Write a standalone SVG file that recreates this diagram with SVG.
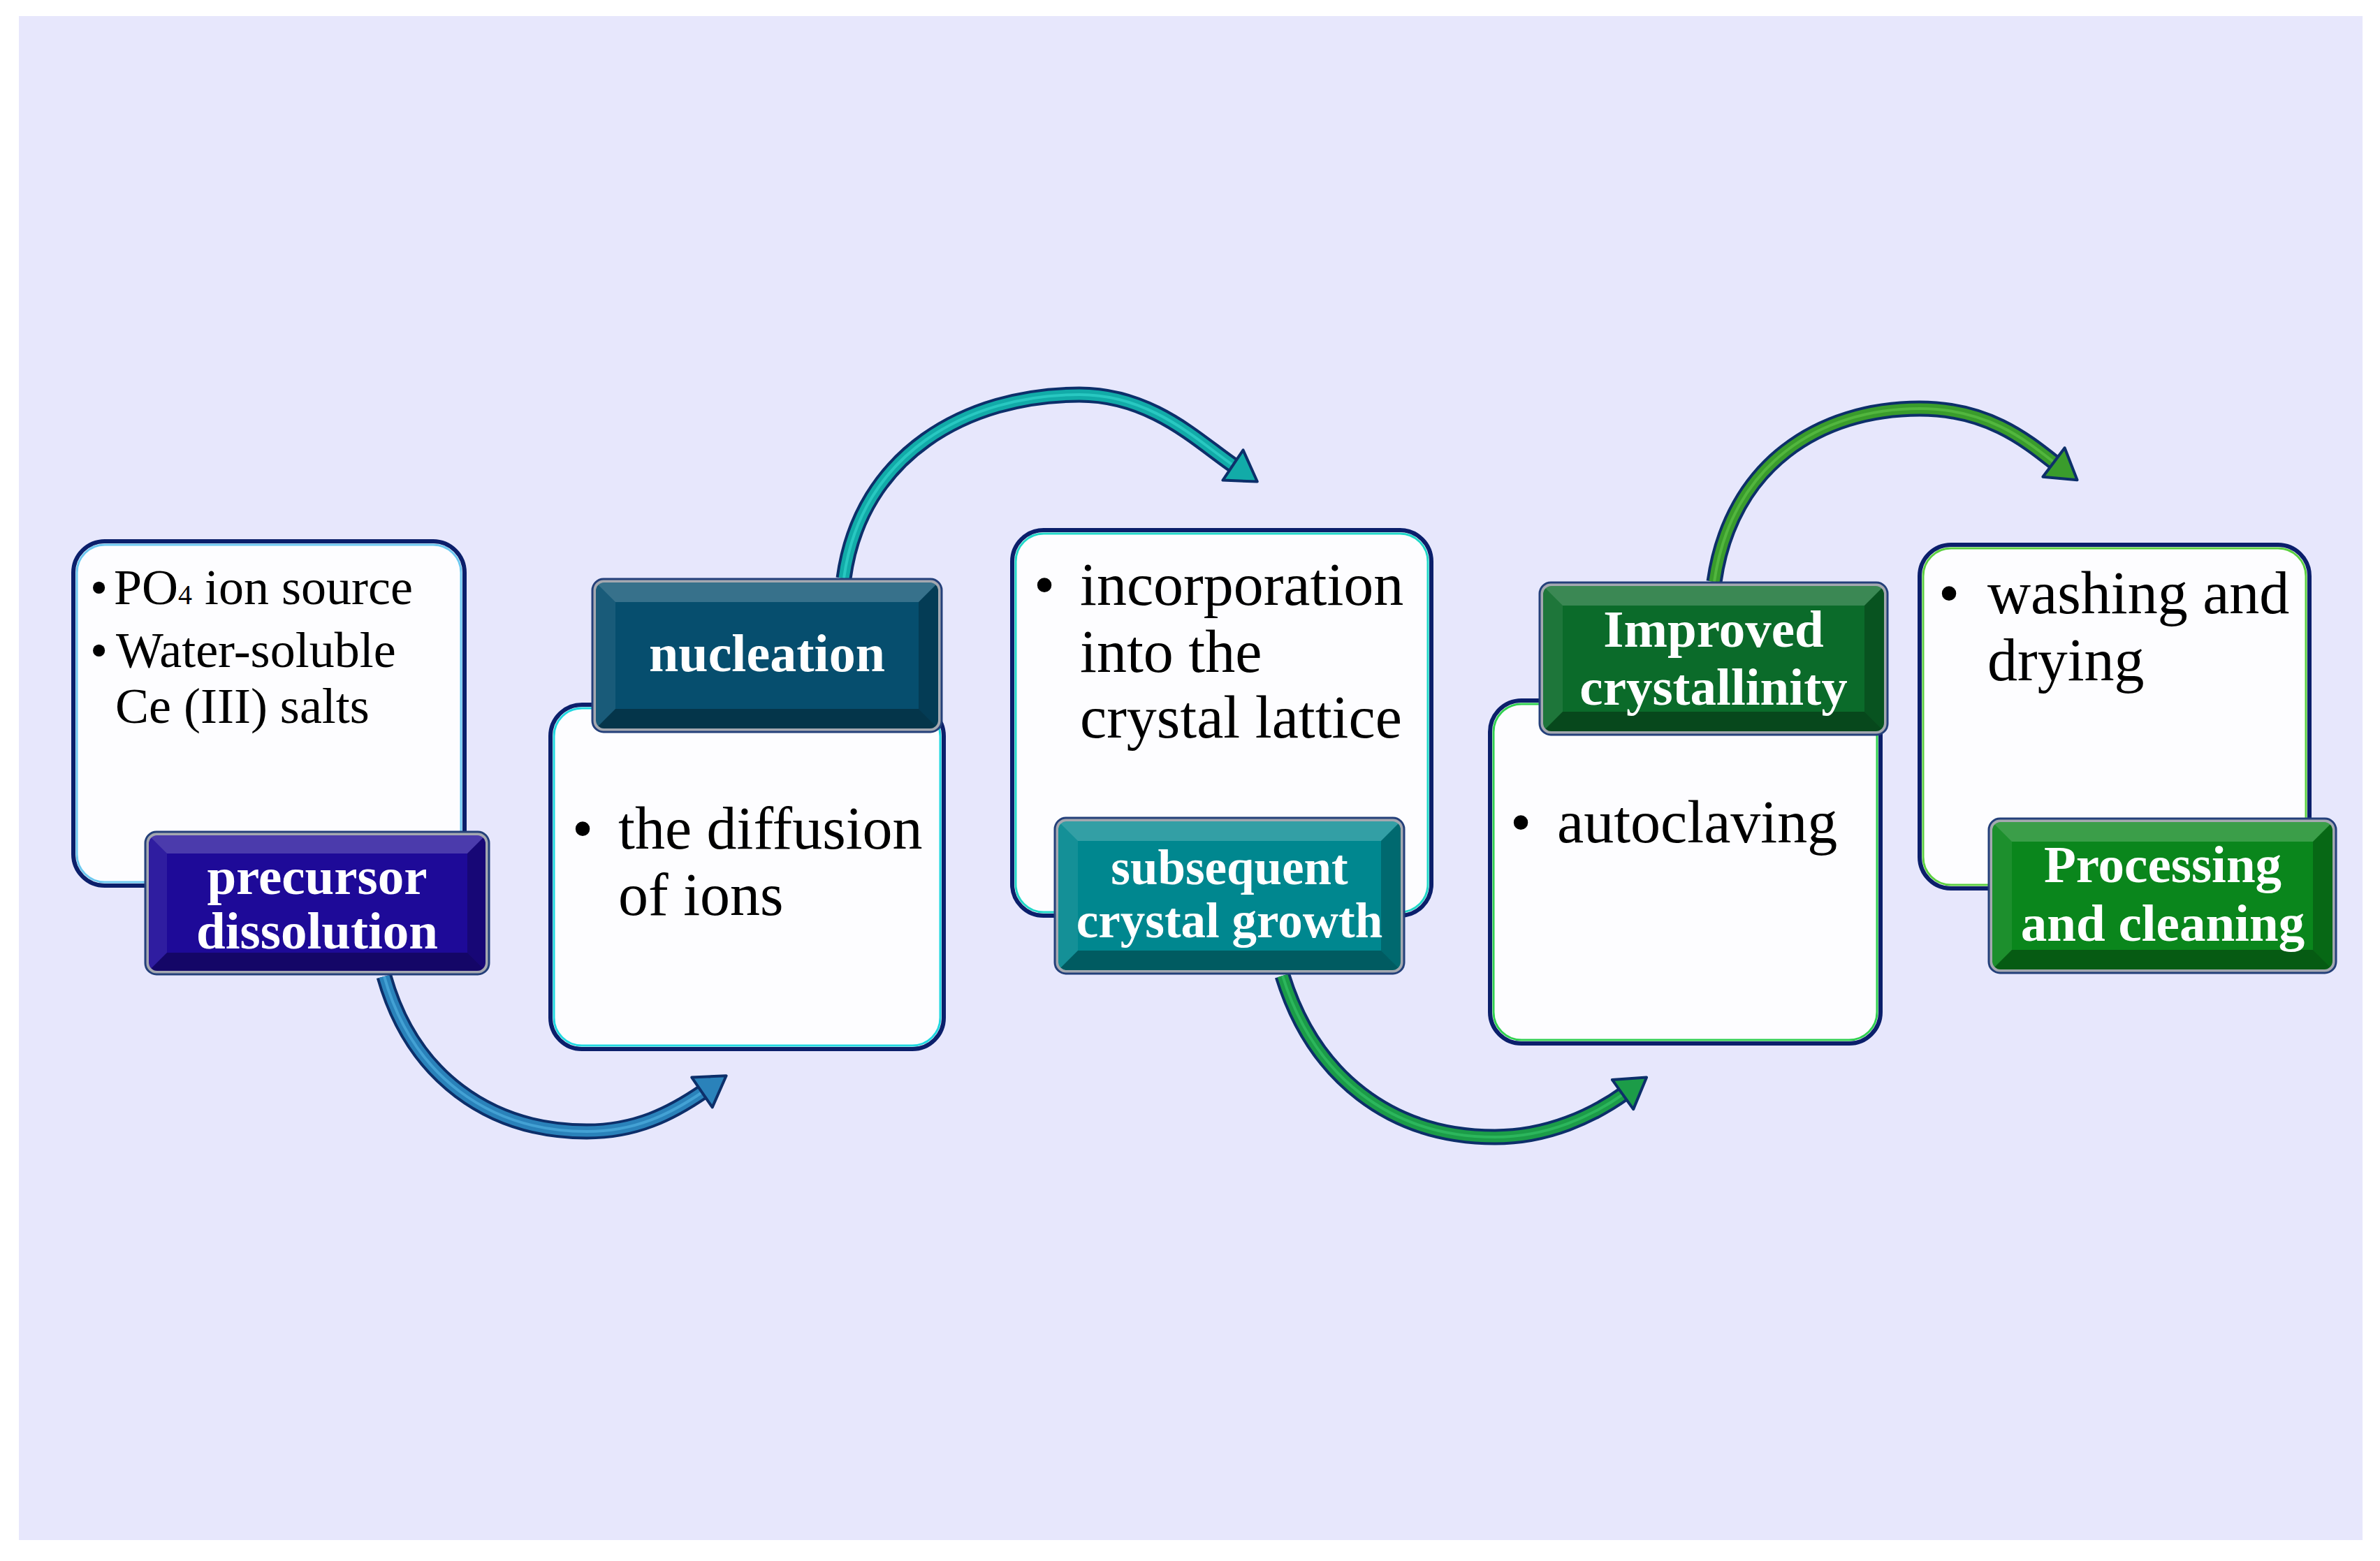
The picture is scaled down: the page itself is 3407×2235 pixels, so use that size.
<svg xmlns="http://www.w3.org/2000/svg" width="3407" height="2235" viewBox="0 0 3407 2235">
<style>
.body{fill:#FDFDFF;stroke:#0B1F6B;stroke-width:6}
.inner{fill:none;stroke-width:3}
.bt{font-family:"Liberation Serif","Times New Roman",serif;fill:#000}
.lt{font-family:"Liberation Serif","Times New Roman",serif;font-weight:bold;fill:#fff;text-anchor:middle}
.rim{fill:#A4A8B0;stroke:#24407A;stroke-width:3}
.bvt{fill:#fff;opacity:0.2}
.bvl{fill:#fff;opacity:0.08}
.bvb{fill:#000;opacity:0.32}
.bvr{fill:#000;opacity:0.22}
.tubeo{fill:none;stroke:#0D2F6A;stroke-width:23}
.tubei{fill:none;stroke-width:15}
.tubeh{fill:none;stroke-width:4;stroke-opacity:0.5}
.head{stroke:#0D2F6A;stroke-width:4;stroke-linejoin:round}
</style>
<defs>
<clipPath id="c1"><rect x="213" y="1196" width="482" height="194" rx="12"/></clipPath>
<clipPath id="c2"><rect x="853" y="834" width="490" height="209" rx="12"/></clipPath>
<clipPath id="c3"><rect x="1515" y="1176" width="490" height="213" rx="12"/></clipPath>
<clipPath id="c4"><rect x="2209" y="839" width="488" height="208" rx="12"/></clipPath>
<clipPath id="c5"><rect x="2852" y="1177" width="487" height="211" rx="12"/></clipPath>
</defs>
<rect x="0" y="0" width="3407" height="2235" fill="#fff"/>
<rect x="27" y="23" width="3355" height="2182" fill="#E7E7FC"/>

<g id="connectors">
  <g id="arrow-a">
    <path class="tubeo" d="M550,1398 C590,1540 700,1620 840,1620 C910,1620 960,1595 1008,1562"/>
    <path class="tubei" stroke="#2A82BA" d="M550,1398 C590,1540 700,1620 840,1620 C910,1620 960,1595 1008,1562"/>
    <path class="tubeh" stroke="#5CC0EE" d="M550,1398 C590,1540 700,1620 840,1620 C910,1620 960,1595 1008,1562"/>
    <polygon class="head" fill="#2A82BA" transform="translate(1005,1564) rotate(-34.5)" points="42,0 0,-26 0,26"/>
  </g>
  <g id="arrow-b">
    <path class="tubeo" d="M1208,828 C1232,650 1385,565 1545,565 C1650,565 1716,633 1768,668"/>
    <path class="tubei" stroke="#12ABA8" d="M1208,828 C1232,650 1385,565 1545,565 C1650,565 1716,633 1768,668"/>
    <path class="tubeh" stroke="#3EE6DA" d="M1208,828 C1232,650 1385,565 1545,565 C1650,565 1716,633 1768,668"/>
    <polygon class="head" fill="#12ABA8" transform="translate(1765,666) rotate(34)" points="42,0 0,-26 0,26"/>
  </g>
  <g id="arrow-c">
    <path class="tubeo" d="M1836,1397 C1880,1540 1990,1628 2140,1628 C2215,1628 2280,1598 2326,1565"/>
    <path class="tubei" stroke="#1C9C48" d="M1836,1397 C1880,1540 1990,1628 2140,1628 C2215,1628 2280,1598 2326,1565"/>
    <path class="tubeh" stroke="#3CD070" d="M1836,1397 C1880,1540 1990,1628 2140,1628 C2215,1628 2280,1598 2326,1565"/>
    <polygon class="head" fill="#1C9C48" transform="translate(2323,1567) rotate(-35.7)" points="42,0 0,-26 0,26"/>
  </g>
  <g id="arrow-d">
    <path class="tubeo" d="M2454,833 C2478,665 2605,585 2748,585 C2845,585 2900,630 2943,664"/>
    <path class="tubei" stroke="#3A9C2C" d="M2454,833 C2478,665 2605,585 2748,585 C2845,585 2900,630 2943,664"/>
    <path class="tubeh" stroke="#6AD050" d="M2454,833 C2478,665 2605,585 2748,585 C2845,585 2900,630 2943,664"/>
    <polygon class="head" fill="#3A9C2C" transform="translate(2940,662) rotate(37)" points="42,0 0,-26 0,26"/>
  </g>
</g>

<g id="node-precursor">
  <rect class="body" x="105" y="775" width="560" height="493" rx="45"/>
  <rect class="inner" stroke="#6CC8F0" x="110" y="780" width="550" height="483" rx="40"/>
  <text class="bt" font-size="72" x="129" y="865">•</text>
  <text class="bt" font-size="72" x="163" y="865">PO<tspan font-size="40">4</tspan> ion source</text>
  <text class="bt" font-size="72" x="129" y="955">•</text>
  <text class="bt" font-size="72" x="166" y="955">Water-soluble</text>
  <text class="bt" font-size="72" x="165" y="1035">Ce (III) salts</text>
  <g id="label-precursor">
    <rect class="rim" x="208" y="1191" width="492" height="204" rx="16"/>
    <g clip-path="url(#c1)">
      <rect x="213" y="1196" width="482" height="194" fill="#1E0A98"/>
      <polygon class="bvt" points="213,1196 695,1196 669,1222 239,1222"/>
      <polygon class="bvl" points="213,1196 239,1222 239,1364 213,1390"/>
      <polygon class="bvb" points="213,1390 239,1364 669,1364 695,1390"/>
      <polygon class="bvr" points="695,1196 695,1390 669,1364 669,1222"/>
    </g>
    <text class="lt" font-size="75" x="454" y="1280">precursor</text>
    <text class="lt" font-size="75" x="454" y="1358">dissolution</text>
  </g>
</g>

<g id="node-nucleation">
  <rect class="body" x="788" y="1009" width="563" height="493" rx="45"/>
  <rect class="inner" stroke="#20D8E0" x="793" y="1014" width="553" height="483" rx="40"/>
  <text class="bt" font-size="86" x="834" y="1215" text-anchor="middle">•</text>
  <text class="bt" font-size="86" x="885" y="1215">the diffusion</text>
  <text class="bt" font-size="86" x="885" y="1310">of ions</text>
  <g id="label-nucleation">
    <rect class="rim" x="848" y="829" width="500" height="219" rx="16"/>
    <g clip-path="url(#c2)">
      <rect x="853" y="834" width="490" height="209" fill="#064E6E"/>
      <polygon class="bvt" points="853,834 1343,834 1315,862 881,862"/>
      <polygon class="bvl" points="853,834 881,862 881,1015 853,1043"/>
      <polygon class="bvb" points="853,1043 881,1015 1315,1015 1343,1043"/>
      <polygon class="bvr" points="1343,834 1343,1043 1315,1015 1315,862"/>
    </g>
    <text class="lt" font-size="76" x="1098" y="961">nucleation</text>
  </g>
</g>

<g id="node-growth">
  <rect class="body" x="1449" y="759" width="600" height="552" rx="45"/>
  <rect class="inner" stroke="#20D8C8" x="1454" y="764" width="590" height="542" rx="40"/>
  <text class="bt" font-size="86" x="1495" y="866" text-anchor="middle">•</text>
  <text class="bt" font-size="86" x="1546" y="866">incorporation</text>
  <text class="bt" font-size="86" x="1546" y="962">into the</text>
  <text class="bt" font-size="86" x="1546" y="1056">crystal lattice</text>
  <g id="label-growth">
    <rect class="rim" x="1510" y="1171" width="500" height="223" rx="16"/>
    <g clip-path="url(#c3)">
      <rect x="1515" y="1176" width="490" height="213" fill="#00878F"/>
      <polygon class="bvt" points="1515,1176 2005,1176 1977,1204 1543,1204"/>
      <polygon class="bvl" points="1515,1176 1543,1204 1543,1361 1515,1389"/>
      <polygon class="bvb" points="1515,1389 1543,1361 1977,1361 2005,1389"/>
      <polygon class="bvr" points="2005,1176 2005,1389 1977,1361 1977,1204"/>
    </g>
    <text class="lt" font-size="71" x="1760" y="1266">subsequent</text>
    <text class="lt" font-size="71" x="1760" y="1342">crystal growth</text>
  </g>
</g>

<g id="node-crystallinity">
  <rect class="body" x="2133" y="1003" width="559" height="491" rx="45"/>
  <rect class="inner" stroke="#30D050" x="2138" y="1008" width="549" height="481" rx="40"/>
  <text class="bt" font-size="86" x="2177" y="1206" text-anchor="middle">•</text>
  <text class="bt" font-size="86" x="2229" y="1206">autoclaving</text>
  <g id="label-crystallinity">
    <rect class="rim" x="2204" y="834" width="498" height="218" rx="16"/>
    <g clip-path="url(#c4)">
      <rect x="2209" y="839" width="488" height="208" fill="#0B6B2A"/>
      <polygon class="bvt" points="2209,839 2697,839 2669,867 2237,867"/>
      <polygon class="bvl" points="2209,839 2237,867 2237,1019 2209,1047"/>
      <polygon class="bvb" points="2209,1047 2237,1019 2669,1019 2697,1047"/>
      <polygon class="bvr" points="2697,839 2697,1047 2669,1019 2669,867"/>
    </g>
    <text class="lt" font-size="75" x="2453" y="926">Improved</text>
    <text class="lt" font-size="75" x="2453" y="1009">crystallinity</text>
  </g>
</g>

<g id="node-processing">
  <rect class="body" x="2748" y="780" width="558" height="492" rx="45"/>
  <rect class="inner" stroke="#5CD040" x="2753" y="785" width="548" height="482" rx="40"/>
  <text class="bt" font-size="86" x="2790" y="878" text-anchor="middle">•</text>
  <text class="bt" font-size="86" x="2845" y="878">washing and</text>
  <text class="bt" font-size="86" x="2845" y="974">drying</text>
  <g id="label-processing">
    <rect class="rim" x="2847" y="1172" width="497" height="221" rx="16"/>
    <g clip-path="url(#c5)">
      <rect x="2852" y="1177" width="487" height="211" fill="#0A861C"/>
      <polygon class="bvt" points="2852,1177 3339,1177 3311,1205 2880,1205"/>
      <polygon class="bvl" points="2852,1177 2880,1205 2880,1360 2852,1388"/>
      <polygon class="bvb" points="2852,1388 2880,1360 3311,1360 3339,1388"/>
      <polygon class="bvr" points="3339,1177 3339,1388 3311,1360 3311,1205"/>
    </g>
    <text class="lt" font-size="75" x="3096" y="1263">Processing</text>
    <text class="lt" font-size="75" x="3096" y="1347">and cleaning</text>
  </g>
</g>
</svg>
